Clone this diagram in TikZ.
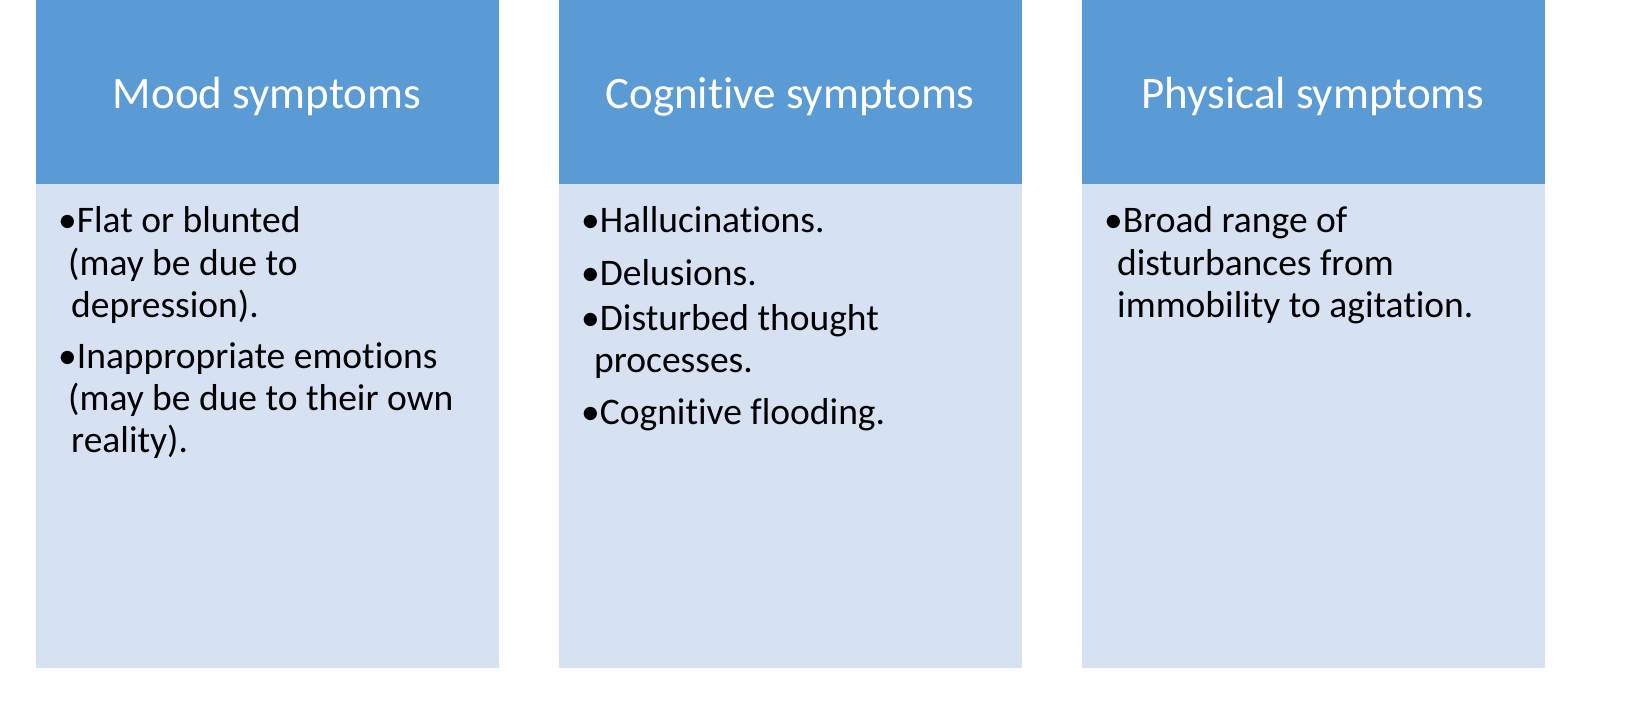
\documentclass[tikz,border=0pt]{standalone}
\usepackage{fontspec}
\setmainfont[Ligatures={NoCommon}]{Carlito}
\definecolor{hdr}{HTML}{5B9BD5}
\definecolor{bdy}{HTML}{D6E1F2}
\begin{document}
\begin{tikzpicture}[x=1pt,y=-1pt,
  head/.style={fill=hdr,draw=none},
  body/.style={fill=bdy,draw=none},
  ttl/.style={anchor=base,text=white,font=\fontsize{45}{52}\selectfont,inner sep=0},
  ln/.style={anchor=base west,text=black,font=\fontsize{37.5}{42}\selectfont,inner sep=0}]
\useasboundingbox (0,0) rectangle (1650,716);
\foreach \x/\n in {36/a,559/b,1082/c}{
  \fill[body] (\x,184) rectangle ++(463,484);
  \fill[head] (\x,0) rectangle ++(463,184);
}
\node[ttl] (ta) at (267,108) {Mood symptoms};
\node[ttl] (tb) at (790,108) {Cognitive symptoms};
\node[ttl] (tc) at (1313,108) {Physical symptoms};
% column 1
\node[ln] (a1) at (58,232) {•Flat or blunted};
\node[ln] (a2) at (68,275) {(may be due to};
\node[ln] (a3) at (71,317) {depression).};
\node[ln] (a4) at (58,368) {•Inappropriate emotions};
\node[ln] (a5) at (68,410) {(may be due to their own};
\node[ln] (a6) at (71,452) {reality).};
% column 2
\node[ln] (b1) at (581,232) {•Hallucinations.};
\node[ln] (b2) at (581,285) {•Delusions.};
\node[ln] (b3) at (581,330) {•Disturbed thought};
\node[ln] (b4) at (594,372) {processes.};
\node[ln] (b5) at (581,424) {•Cognitive flooding.};
% column 3
\node[ln] (c1) at (1104,232) {•Broad range of};
\node[ln] (c2) at (1117,275) {disturbances from};
\node[ln] (c3) at (1117,317) {immobility to agitation.};
\end{tikzpicture}
\end{document}
